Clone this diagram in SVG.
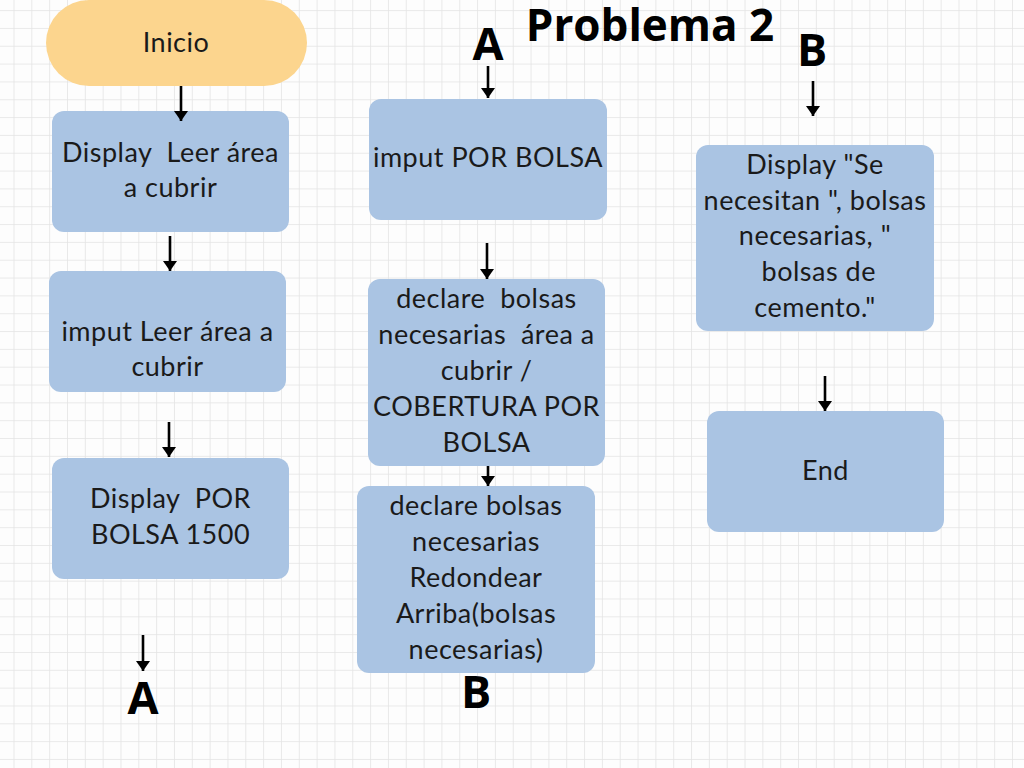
<svg xmlns="http://www.w3.org/2000/svg" width="1024" height="768" viewBox="0 0 1024 768">
<defs>
<pattern id="grid" x="13.5" y="10.1" width="17.83" height="17.83" patternUnits="userSpaceOnUse">
<path d="M0 0 H17.83 M0 0 V17.83" fill="none" stroke="#e4e4e4" stroke-width="1.6"/>
</pattern>
<marker id="ah" markerUnits="userSpaceOnUse" markerWidth="12" markerHeight="14" refX="10" refY="7" orient="auto" viewBox="0 0 12 14">
<path d="M0 0 L10 7 L0 14 Z" fill="#000"/>
</marker>
<style>
.box{fill:#aac4e3}
.start{fill:#fcd58e}
.t{font-family:Lato,"Open Sans","Liberation Sans",sans-serif;font-size:27px;fill:#1a1a1a;text-anchor:middle;letter-spacing:0.5px;white-space:pre}
.big{font-family:"Open Sans","Liberation Sans",sans-serif;font-weight:bold;fill:#000;text-anchor:middle}
.c{stroke:#000;stroke-width:2.6;fill:none}
</style>
</defs>
<rect width="1024" height="768" fill="#fdfdfd"/>
<rect width="1024" height="768" fill="url(#grid)"/>

<text class="big" x="650" y="41" font-size="44">Problema 2</text>

<g id="inicio"><rect class="start" x="46" y="0" width="261" height="86" rx="43"/><text class="t" x="176" y="52" font-size="25">Inicio</text></g>

<g id="n1"><rect class="box" x="52" y="111" width="237" height="121" rx="12"/><text class="t" x="170.5" y="162" xml:space="preserve">Display  Leer área</text><text class="t" x="170.5" y="197">a cubrir</text></g>

<g id="n2"><rect class="box" x="49" y="271" width="237" height="121" rx="12"/><text class="t" x="167.5" y="341">imput Leer área a</text><text class="t" x="167.5" y="376">cubrir</text></g>

<g id="n3"><rect class="box" x="52" y="458" width="237" height="121" rx="12"/><text class="t" x="170.5" y="508" xml:space="preserve">Display  POR</text><text class="t" x="170.5" y="544">BOLSA 1500</text></g>

<g id="connA1"><text class="big" x="143" y="714" font-size="45">A</text></g>

<g id="connA2"><text class="big" x="488" y="60" font-size="45">A</text></g>

<g id="n4"><rect class="box" x="369" y="99" width="238" height="121" rx="12"/><text class="t" x="488" y="167">imput POR BOLSA</text></g>

<g id="n5"><rect class="box" x="368" y="279" width="237" height="187" rx="12"/><text class="t" x="486.5" y="308" xml:space="preserve">declare  bolsas</text><text class="t" x="486.5" y="344" xml:space="preserve">necesarias  área a</text><text class="t" x="486.5" y="380">cubrir /</text><text class="t" x="486.5" y="416">COBERTURA POR</text><text class="t" x="486.5" y="452">BOLSA</text></g>

<g id="n6"><rect class="box" x="357" y="486" width="238" height="187" rx="12"/><text class="t" x="476" y="515">declare bolsas</text><text class="t" x="476" y="551">necesarias</text><text class="t" x="476" y="587">Redondear</text><text class="t" x="476" y="623">Arriba(bolsas</text><text class="t" x="476" y="659">necesarias)</text></g>

<g id="connB1"><text class="big" x="476" y="708" font-size="45">B</text></g>

<g id="connB2"><text class="big" x="812" y="66" font-size="45">B</text></g>

<g id="n7"><rect class="box" x="696" y="145" width="238" height="186" rx="12"/><text class="t" x="815" y="174">Display "Se</text><text class="t" x="815" y="210">necesitan ", bolsas</text><text class="t" x="815" y="245">necesarias, "</text><text class="t" x="815" y="281" xml:space="preserve"> bolsas de</text><text class="t" x="815" y="317">cemento."</text></g>

<g id="end"><rect class="box" x="707" y="411" width="237" height="121" rx="12"/><text class="t" x="825.5" y="480">End</text></g>

<g id="connectors">
<line class="c" x1="181" y1="86" x2="181" y2="121" marker-end="url(#ah)"/>
<line class="c" x1="170" y1="236" x2="170" y2="271" marker-end="url(#ah)"/>
<line class="c" x1="169" y1="422" x2="169" y2="457" marker-end="url(#ah)"/>
<line class="c" x1="143" y1="635" x2="143" y2="671" marker-end="url(#ah)"/>
<line class="c" x1="488" y1="66" x2="488" y2="98" marker-end="url(#ah)"/>
<line class="c" x1="487" y1="243" x2="487" y2="279" marker-end="url(#ah)"/>
<line class="c" x1="488" y1="466" x2="488" y2="486" marker-end="url(#ah)"/>
<line class="c" x1="813" y1="81" x2="813" y2="116" marker-end="url(#ah)"/>
<line class="c" x1="825" y1="376" x2="825" y2="411" marker-end="url(#ah)"/>
</g>
</svg>
